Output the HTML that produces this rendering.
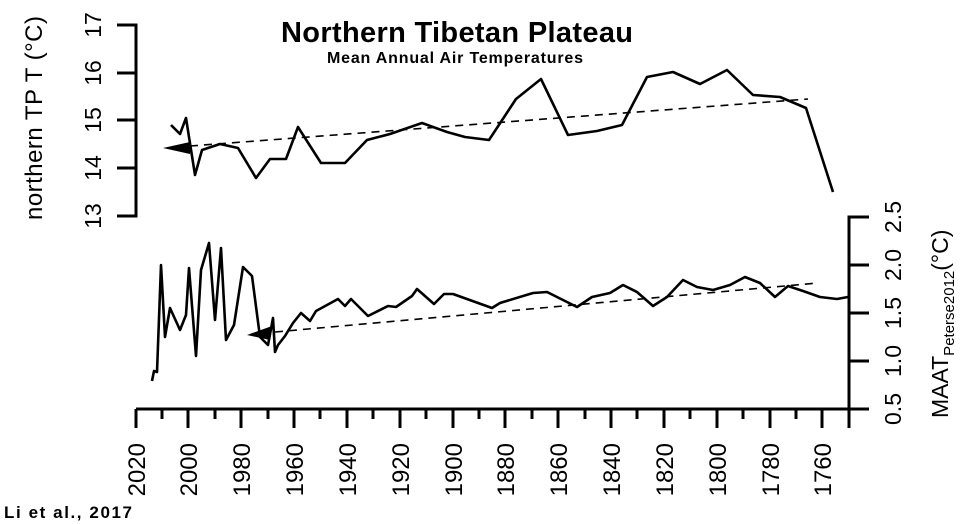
<!DOCTYPE html>
<html><head><meta charset="utf-8"><style>
body{margin:0;background:#fff}
svg{display:block}
text{font-family:"Liberation Sans",sans-serif;fill:#000}
</style></head><body>
<svg width="965" height="524" viewBox="0 0 965 524" xmlns="http://www.w3.org/2000/svg">
<g stroke="#000" stroke-width="3" fill="none">
<path d="M117,25H136V216H117M117,73H136M117,120H136M117,168H136"/>
<path d="M136,409H849M849,409V217H869M849,265H869M849,313H869M849,361H869M849,409H869"/>
<path d="M136,409V428M188,409V428M241,409V428M294,409V428M347,409V428M400,409V428M453,409V428M505,409V428M558,409V428M611,409V428M664,409V428M717,409V428M770,409V428M822,409V428M849,409V428"/>
<path d="M162,409V419M215,409V419M268,409V419M320,409V419M373,409V419M426,409V419M479,409V419M532,409V419M585,409V419M637,409V419M690,409V419M743,409V419M796,409V419"/>
</g>
<g stroke="#000" stroke-width="2.6" fill="none" stroke-linejoin="round">
<path d="M171,125L180,134L186,118L195,175L202,150L220,144L238,148L256,178L270,159L286,159L298,127L321,163L345,163L367,140L390,134L422,123L447,132L465,137L489,140L516,99L541,79L568,135L597,131L622,125L647,77L673,72L700,84L727,70L753,95L780,97L806,108L833,192"/>
<path d="M152,381L154,371L157,372L161,265L165,337L170,308L180,330L186,315L189,268L196,356L201,270L209,243L215,320L221,248L226,340L234,325L243,267L252,276L260,337L268,345L273,318L275,352L278,345L285,336L293,323L301,313L310,321L316,311L327,305L338,299L345,306L351,299L368,316L388,306L396,307L412,296L417,289L434,304L444,294L453,294L492,308L500,303L533,293L547,292L577,307L592,297L610,293L623,285L637,292L653,306L667,297L683,280L697,287L713,290L730,285L745,277L760,283L775,297L788,286L803,291L820,297L837,299L848,297"/>
</g>
<g stroke="#000" stroke-width="1.6" stroke-dasharray="8,6" fill="none">
<path d="M190,146L808,99"/>
<path d="M275,332L818,283"/>
</g>
<polygon points="163,148 190,142 190,154" fill="#000"/>
<polygon points="247,335 272,326 270,340" fill="#000"/>
<g font-size="23" text-anchor="middle">
<text transform="translate(101,25) rotate(-90)">17</text>
<text transform="translate(101,73) rotate(-90)">16</text>
<text transform="translate(101,120) rotate(-90)">15</text>
<text transform="translate(101,168) rotate(-90)">14</text>
<text transform="translate(101,216) rotate(-90)">13</text>
<text transform="translate(901,217) rotate(-90)">2.5</text>
<text transform="translate(901,265) rotate(-90)">2.0</text>
<text transform="translate(901,313) rotate(-90)">1.5</text>
<text transform="translate(901,361) rotate(-90)">1.0</text>
<text transform="translate(901,409) rotate(-90)">0.5</text>
<text transform="translate(42,118) rotate(-90)" font-size="24" textLength="204">northern TP T (°C)</text>
</g>
<g font-size="24" text-anchor="end">
<text transform="translate(145,443) rotate(-90)">2020</text>
<text transform="translate(197,443) rotate(-90)">2000</text>
<text transform="translate(250,443) rotate(-90)">1980</text>
<text transform="translate(303,443) rotate(-90)">1960</text>
<text transform="translate(356,443) rotate(-90)">1940</text>
<text transform="translate(409,443) rotate(-90)">1920</text>
<text transform="translate(462,443) rotate(-90)">1900</text>
<text transform="translate(514,443) rotate(-90)">1880</text>
<text transform="translate(567,443) rotate(-90)">1860</text>
<text transform="translate(620,443) rotate(-90)">1840</text>
<text transform="translate(673,443) rotate(-90)">1820</text>
<text transform="translate(726,443) rotate(-90)">1800</text>
<text transform="translate(779,443) rotate(-90)">1780</text>
<text transform="translate(831,443) rotate(-90)">1760</text>
</g>
<text transform="translate(948,418) rotate(-90)" font-size="23">MAAT<tspan font-size="15" dy="6">Peterse2012</tspan><tspan font-size="23" dy="-6">(°C)</tspan></text>
<text x="281" y="42" font-size="29" font-weight="bold" textLength="352">Northern Tibetan Plateau</text>
<text x="327" y="63" font-size="16" font-weight="bold" textLength="256">Mean Annual Air Temperatures</text>
<text x="4" y="518" font-size="17" font-weight="bold" textLength="128">Li et al., 2017</text>
</svg>
</body></html>
